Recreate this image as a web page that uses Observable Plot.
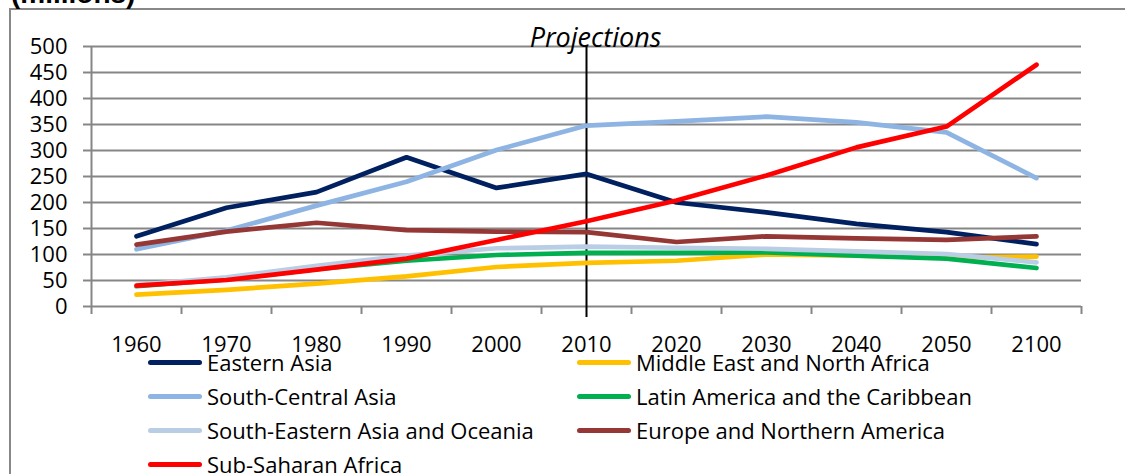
<!DOCTYPE html>
<html><head><meta charset="utf-8">
<script src="https://cdn.jsdelivr.net/npm/d3@7"></script>
<script src="https://cdn.jsdelivr.net/npm/@observablehq/plot@0.6"></script>
<style>
body{margin:0;background:#fff;}
#wrap{position:relative;width:1125px;height:474px;overflow:hidden;font-family:"Open Sans",sans-serif;color:#000;}
#frame{position:absolute;left:9px;top:8px;width:1200px;height:600px;border-left:2px solid #888;border-top:2px solid #888;}
#unit{position:absolute;left:11px;top:-20px;font-family:"Liberation Sans",Arial,sans-serif;font-size:28px;line-height:28px;font-weight:bold;white-space:nowrap;}
#chart{position:absolute;left:0;top:0;}
#legend{position:absolute;top:352px;left:0;width:1125px;height:140px;}
.item{position:absolute;height:20px;display:flex;align-items:center;font-size:22px;line-height:20px;white-space:nowrap;}
.sw{width:54px;height:5px;border-radius:3px;margin-right:5px;flex:none;}
</style></head>
<body>
<div id="wrap">
  <div id="frame"></div>
  <div id="unit"></div>
  <div id="chart"></div>
  <div id="legend"></div>
</div>
<script>
// ---- data ----
const years = ["1960","1970","1980","1990","2000","2010","2020","2030","2040","2050","2100"];
const yTicks = [0,50,100,150,200,250,300,350,400,450,500];
const easternAsia      = [135,190,220,287,228,255,200,181,159,143,120];
const middleEastNAfrica= [23,32,44,58,76,84,88,100,98,94,96];
const southCentralAsia = [110,146,194,240,301,348,356,365,354,335,247];
const latinAmerica     = [39,52,72,88,99,103,103,104,98,92,74];
const southEastAsia    = [41,56,78,98,112,115,113,111,106,101,85];
const europeNAmerica   = [119,144,161,147,144,143,124,135,131,128,135];
const subSaharanAfrica = [40,51,71,92,128,164,204,252,306,346,465];
const projectionStart = "2010";
const projectionLabel = "Projections";
const unitLabel = "(millions)";

// series in drawing order (later on top)
const series = [
  {name:"Eastern Asia", values:easternAsia, color:"#002060"},
  {name:"Middle East and North Africa", values:middleEastNAfrica, color:"#FFC000"},
  {name:"South-Central Asia", values:southCentralAsia, color:"#8DB4E2"},
  {name:"Latin America and the Caribbean", values:latinAmerica, color:"#00B050"},
  {name:"South-Eastern Asia and Oceania", values:southEastAsia, color:"#B9CDE5"},
  {name:"Europe and Northern America", values:europeNAmerica, color:"#953735"},
  {name:"Sub-Saharan Africa", values:subSaharanAfrica, color:"#FF0000"}
];

const rows = series.flatMap(s => s.values.map((v,i) => ({region:s.name, year:years[i], xi:i+0.5, value:v})));
const pos = y => years.indexOf(y) + 0.5;

document.getElementById("unit").textContent = unitLabel;

const grey = "#868686";
const chart = Plot.plot({
  width:1125, height:352,
  marginLeft:91, marginRight:44, marginTop:46, marginBottom:46,
  style:{fontFamily:"'Open Sans', sans-serif", fontSize:"22px", color:"#000", background:"transparent", overflow:"visible"},
  x:{type:"linear", domain:[0, years.length]},
  y:{domain:[0,500]},
  color:{domain:series.map(s=>s.name), range:series.map(s=>s.color)},
  marks:[
    Plot.gridY(yTicks, {stroke:grey, strokeOpacity:1, strokeWidth:2}),
    Plot.axisY(yTicks, {tickSize:8, tickPadding:16, stroke:grey, strokeWidth:2, fill:"#000", tickFormat:d=>String(d), label:null}),
    Plot.ruleX([0], {y1:0, y2:500, stroke:grey, strokeWidth:2}),
    Plot.axisX(d3.range(years.length+1), {tickSize:8, stroke:grey, strokeWidth:2, tickFormat:()=>"", label:null}),
    Plot.axisX(years.map(pos), {tickSize:0, tickPadding:30, tickFormat:d=>years[Math.floor(d)], label:null, fill:"#000"}),
    Plot.ruleX([projectionStart], {x:pos, y1:500, y2:0, stroke:"#000", strokeWidth:2, insetBottom:-11}),
    Plot.text([projectionLabel], {x:()=>pos(projectionStart), y:()=>500, text:d=>d, dx:9, lineAnchor:"bottom", fontStyle:"italic", fontSize:27, fill:"#000"}),
    Plot.line(rows, {x:"xi", y:"value", z:"region", stroke:"region", strokeWidth:4.7, strokeLinecap:"round", strokeLinejoin:"round"})
  ]
});
document.getElementById("chart").appendChild(chart);

// legend (row-major, two columns)
const legend = document.getElementById("legend");
const colLeft = [148, 577];
series.forEach((s,i) => {
  const d = document.createElement("div");
  d.className = "item";
  d.style.left = colLeft[i%2] + "px";
  d.style.top = (Math.floor(i/2)*34) + "px";
  const sw = document.createElement("span");
  sw.className = "sw"; sw.style.background = s.color;
  const t = document.createElement("span");
  t.textContent = s.name;
  d.appendChild(sw); d.appendChild(t);
  legend.appendChild(d);
});
</script>
</body></html>
